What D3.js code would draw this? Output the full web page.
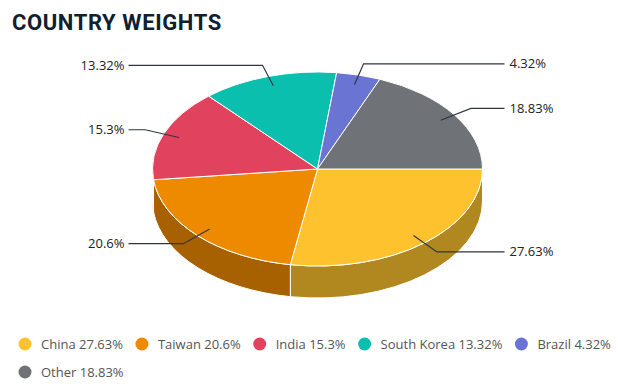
<!DOCTYPE html>
<html>
<head>
<meta charset="utf-8">
<script src="https://cdn.jsdelivr.net/npm/d3@7"></script>
<style>
  body { margin: 0; background: #fff; }
  svg { display: block; }
</style>
</head>
<body>
<svg id="chart" width="618" height="391"></svg>
<script>
// data
var countries = ["China", "Taiwan", "India", "South Korea", "Brazil", "Other"];
var weights = [27.63, 20.6, 15.3, 13.32, 4.32, 18.83];
var sliceLabels = ["27.63%", "20.6%", "15.3%", "13.32%", "4.32%", "18.83%"];
var sliceColors = ["#fdc22e", "#ee8a00", "#e1435f", "#0bbfae", "#6a75d3", "#6f7377"];

var W = 618, H = 391;
var cx = 317.5, cy = 169, rx = 165, ry = 97, depth = 32;

var svg = d3.select("#chart");

svg.append("text")
  .attr("x", 12).attr("y", 30)
  .attr("font-family", "Roboto, sans-serif")
  .attr("font-weight", 700)
  .attr("font-size", 22)
  .attr("letter-spacing", 0.6)
  .attr("fill", "#10202f")
  .text("COUNTRY WEIGHTS");

var color = d3.scaleOrdinal().domain(countries).range(sliceColors);

// d3 angles start at 12 o'clock; shift so the first slice starts at 3 o'clock
var pie = d3.pie().sort(null).value(function(d) { return d.w })
  .startAngle(Math.PI / 2).endAngle(Math.PI / 2 + 2 * Math.PI);

var rows = countries.map(function(c, i) { return {name: c, w: weights[i], label: sliceLabels[i]} });
var arcs = pie(rows).map(function(a) {
  a.t0 = a.startAngle - Math.PI / 2;
  a.t1 = a.endAngle - Math.PI / 2;
  a.mid = (a.t0 + a.t1) / 2;
  return a;
});

function pt(t, f, dy) {
  f = f || 1; dy = dy || 0;
  return [cx + rx * f * Math.cos(t), cy + ry * f * Math.sin(t) + dy];
}

function darker(c) {
  var k = d3.rgb(c);
  return d3.rgb(k.r * 0.7, k.g * 0.7, k.b * 0.7).toString();
}

// front walls (only the part facing the viewer, 0..pi)
var walls = svg.append("g");
arcs.forEach(function(a) {
  var a0 = Math.max(a.t0, 0), a1 = Math.min(a.t1, Math.PI);
  if (a0 >= a1) return;
  var p0 = pt(a0), p1 = pt(a1), q1 = pt(a1, 1, depth), q0 = pt(a0, 1, depth);
  var d = "M" + p0 + "A" + rx + "," + ry + " 0 0 1 " + p1 +
          "L" + q1 + "A" + rx + "," + ry + " 0 0 0 " + q0 + "Z";
  walls.append("path")
    .attr("d", d)
    .attr("fill", darker(color(a.data.name)))
    .attr("stroke", "#fff")
    .attr("stroke-width", 1)
    .attr("stroke-linejoin", "round");
});

// top faces
var tops = svg.append("g");
arcs.forEach(function(a) {
  var p0 = pt(a.t0), p1 = pt(a.t1);
  var large = (a.t1 - a.t0) > Math.PI ? 1 : 0;
  tops.append("path")
    .attr("d", "M" + cx + "," + cy + "L" + p0 + "A" + rx + "," + ry + " 0 " + large + " 1 " + p1 + "Z")
    .attr("fill", color(a.data.name))
    .attr("stroke", "#fff")
    .attr("stroke-width", 1)
    .attr("stroke-linejoin", "round");
});

// data labels with connectors
var lab = svg.append("g");
arcs.forEach(function(a) {
  var s = pt(a.mid, 0.9), e = pt(a.mid, 1.12);
  var right = Math.cos(a.mid) > 0;
  var endX = right ? cx + rx + 22 : cx - rx - 24;
  lab.append("polyline")
    .attr("points", [s, e, [endX, e[1]]].join(" "))
    .attr("fill", "none")
    .attr("stroke", "#2f3640")
    .attr("stroke-width", 1.2);
  lab.append("text")
    .attr("x", right ? endX + 5 : endX - 4)
    .attr("y", e[1])
    .attr("dy", "0.35em")
    .attr("text-anchor", right ? "start" : "end")
    .attr("font-family", "'Open Sans', sans-serif")
    .attr("font-size", 13)
    .attr("fill", "#222")
    .text(a.data.label);
});

// legend
var leg = svg.append("g");
var lx = 25, ly = 344;
rows.forEach(function(r) {
  var g = leg.append("g");
  g.append("circle").attr("r", 6.5).attr("fill", color(r.name));
  var t = g.append("text")
    .attr("x", 16).attr("dy", "0.35em")
    .attr("font-family", "'Open Sans', sans-serif")
    .attr("font-size", 13)
    .attr("fill", "#555")
    .text(r.name + " " + r.label);
  var w = t.node().getComputedTextLength();
  if (lx + 16 + w > W - 4) { lx = 25; ly += 28; }
  g.attr("transform", "translate(" + lx + "," + ly + ")");
  lx += 16 + w + 19;
});
</script>
</body>
</html>
